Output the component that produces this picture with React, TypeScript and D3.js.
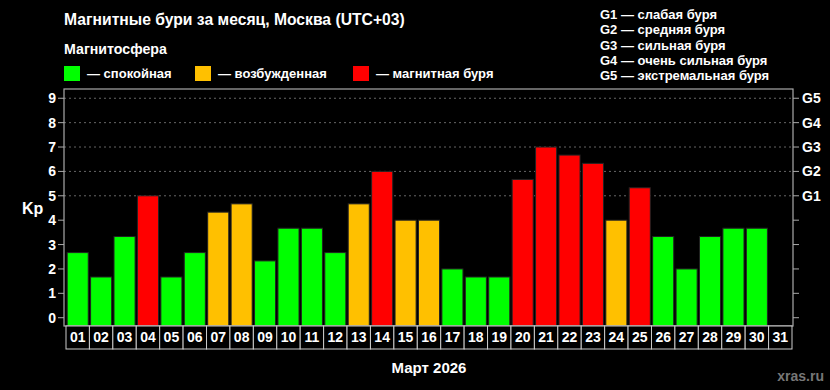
import React from "react";
import * as d3 from "d3";

const days = ["01","02","03","04","05","06","07","08","09","10","11","12","13","14","15","16","17","18","19","20","21","22","23","24","25","26","27","28","29","30","31"];
const kpValues: (number | null)[] = [2.67,1.67,3.33,5,1.67,2.67,4.33,4.67,2.33,3.67,3.67,2.67,4.67,6,4,4,2,1.67,1.67,5.67,7,6.67,6.33,4,5.33,3.33,2,3.33,3.67,3.67,null];
const yTicks = [0,1,2,3,4,5,6,7,8,9];
const gLabels = [{ v: 5, t: "G1" }, { v: 6, t: "G2" }, { v: 7, t: "G3" }, { v: 8, t: "G4" }, { v: 9, t: "G5" }];
const stormLegend = ["G1 — слабая буря","G2 — средняя буря","G3 — сильная буря","G4 — очень сильная буря","G5 — экстремальная буря"];
const stateLegend = [
  { label: "— спокойная", color: "#00ff00" },
  { label: "— возбужденная", color: "#ffc000" },
  { label: "— магнитная буря", color: "#ff0000" },
];

const W = 830, H = 390;
const L = 64, R = 793, T = 89, B = 326;
const bandL = 66, bandR = 792;

function colorFor(v: number) {
  if (v >= 5) return "#ff0000";
  if (v >= 4) return "#ffc000";
  return "#00ff00";
}

export default function App() {
  const y = d3.scaleLinear().domain([-0.34, 9.38]).range([B, T]);
  const x = d3.scaleBand<string>().domain(days).range([bandL, bandR]).paddingInner(0.1).paddingOuter(0.05);
  const cells = d3.scaleBand<string>().domain(days).range([bandL, bandR]).padding(0);
  const font = "'Liberation Sans', Arial, sans-serif";
  const legendX = [64, 195, 353];
  return (
    <div style={{ position: "fixed", left: 0, top: 0, width: W, height: H, background: "#000" }}>
      <svg width={W} height={H} style={{ display: "block", fontFamily: font, fontWeight: "bold" }}>
        <rect x={0} y={0} width={W} height={H} fill="#000" />
        <text x={64} y={25} fill="#fff" fontSize={15.7}>Магнитные бури за месяц, Москва (UTC+03)</text>
        <text x={64} y={54} fill="#fff" fontSize={14.2}>Магнитосфера</text>
        {stateLegend.map((s, i) => (
          <g key={s.label}>
            <rect x={legendX[i]} y={66} width={16} height={15} fill={s.color} />
            <text x={legendX[i] + 23} y={78} fill="#fff" fontSize={13}>{s.label}</text>
          </g>
        ))}
        {stormLegend.map((s, i) => (
          <text key={s} x={600} y={19 + i * 15.25} fill="#fff" fontSize={13}>{s}</text>
        ))}
        {gLabels.map(g => (
          <line key={"g" + g.v} x1={L} x2={R} y1={y(g.v)} y2={y(g.v)} stroke="#666" strokeDasharray="2,3" strokeWidth={1} />
        ))}
        {days.map((d, i) => {
          const v = kpValues[i];
          if (v == null) return null;
          return (
            <rect key={d} x={x(d)} y={y(v)} width={x.bandwidth()} height={B - y(v)} fill={colorFor(v)} stroke="#222" strokeWidth={1} />
          );
        })}
        <rect x={L} y={T} width={R - L} height={B - T} fill="none" stroke="#aaa" strokeWidth={1.2} />
        {yTicks.map(t => (
          <g key={"t" + t}>
            <line x1={L - 6} x2={L} y1={y(t)} y2={y(t)} stroke="#aaa" />
            <text x={56} y={y(t)} dy="0.36em" textAnchor="end" fill="#fff" fontSize={14}>{t}</text>
            <line x1={R} x2={R + 6} y1={y(t)} y2={y(t)} stroke="#aaa" />
          </g>
        ))}
        {gLabels.map(g => (
          <text key={"gl" + g.v} x={802} y={y(g.v)} dy="0.36em" fill="#fff" fontSize={14}>{g.t}</text>
        ))}
        <text x={22} y={214} fill="#fff" fontSize={16}>Kp</text>
        {days.map(d => (
          <g key={"c" + d}>
            <rect x={cells(d)} y={B} width={cells.bandwidth()} height={23} fill="#000" stroke="#ccc" strokeWidth={1} />
            <text x={(cells(d) as number) + cells.bandwidth() / 2} y={342} textAnchor="middle" fill="#fff" fontSize={14}>{d}</text>
          </g>
        ))}
        <text x={429} y={373} textAnchor="middle" fill="#fff" fontSize={15}>Март 2026</text>
        <text x={824} y={381} textAnchor="end" fill="#777" fontSize={14}>xras.ru</text>
      </svg>
    </div>
  );
}
